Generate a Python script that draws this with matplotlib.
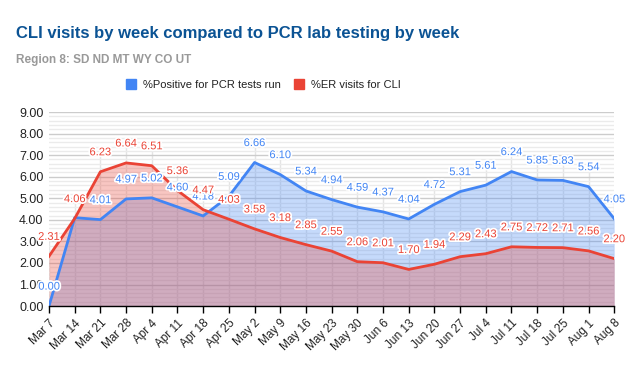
import matplotlib.pyplot as plt
from matplotlib.patches import Rectangle
from matplotlib.ticker import MultipleLocator
import matplotlib.patheffects as pe

plt.rcParams['font.family'] = ['Liberation Sans', 'DejaVu Sans']

# weekly dates
weeks = ['Mar 7', 'Mar 14', 'Mar 21', 'Mar 28', 'Apr 4', 'Apr 11', 'Apr 18',
         'Apr 25', 'May 2', 'May 9', 'May 16', 'May 23', 'May 30', 'Jun 6',
         'Jun 13', 'Jun 20', 'Jun 27', 'Jul 4', 'Jul 11', 'Jul 18', 'Jul 25',
         'Aug 1', 'Aug 8']

# %Positive for PCR tests run
pcr_positive = [0.00, 4.10, 4.01, 4.97, 5.02, 4.60, 4.18, 5.09, 6.66, 6.10,
                5.34, 4.94, 4.59, 4.37, 4.04, 4.72, 5.31, 5.61, 6.24, 5.85,
                5.83, 5.54, 4.05]

# %ER visits for CLI
er_visits = [2.31, 4.06, 6.23, 6.64, 6.51, 5.36, 4.47, 4.03, 3.58, 3.18,
             2.85, 2.55, 2.06, 2.01, 1.70, 1.94, 2.29, 2.43, 2.75, 2.72,
             2.71, 2.56, 2.20]

blue = '#4285F4'
red = '#EA4335'

fig = plt.figure(figsize=(6.33, 3.71), dpi=100)
ax = fig.add_axes([0.0774, 0.175, 0.893, 0.523])

x = list(range(len(weeks)))

# faint leader lines from each label down to the axis
tops = [max(a, b) + 0.9 for a, b in zip(pcr_positive, er_visits)]
ax.vlines(x, 0, tops, color='#e4e4e4', linewidth=1, zorder=0.5)

# areas and lines
ax.fill_between(x, pcr_positive, 0, color=blue, alpha=0.3, linewidth=0)
ax.fill_between(x, er_visits, 0, color=red, alpha=0.3, linewidth=0)
ax.plot(x, pcr_positive, color=blue, linewidth=2)
ax.plot(x, er_visits, color=red, linewidth=2)

# data labels with white halo
halo = [pe.withStroke(linewidth=2.5, foreground='white')]
for xi, v in zip(x, pcr_positive):
    if xi == 1:
        continue  # hidden behind the red label in the original
    ax.annotate('%.2f' % v, (xi, v), xytext=(0, 14), textcoords='offset points',
                ha='center', va='center', fontsize=8, color=blue,
                path_effects=halo, annotation_clip=False)
for xi, v in zip(x, er_visits):
    ax.annotate('%.2f' % v, (xi, v), xytext=(0, 14), textcoords='offset points',
                ha='center', va='center', fontsize=8, color=red,
                path_effects=halo, annotation_clip=False)

ax.set_xlim(0, len(weeks) - 1)
ax.set_ylim(0, 9)
ax.yaxis.set_major_locator(MultipleLocator(1))
ax.yaxis.set_minor_locator(MultipleLocator(0.2))
ax.set_yticks(range(10))
ax.set_yticklabels(['%.2f' % v for v in range(10)], fontsize=9, color='#222222')
ax.set_xticks(x)
ax.set_xticklabels(weeks, rotation=45, ha='right', rotation_mode='anchor',
                   fontsize=8.5, color='#222222')

ax.set_axisbelow(True)
ax.grid(axis='y', which='major', color='#cccccc', linewidth=1)
ax.grid(axis='y', which='minor', color='#ebebeb', linewidth=1)
ax.tick_params(axis='y', which='both', length=0, pad=4)
ax.tick_params(axis='x', length=5, width=1, color='black', pad=3)

for side in ['top', 'right', 'left']:
    ax.spines[side].set_visible(False)
ax.spines['bottom'].set_color('black')
ax.spines['bottom'].set_linewidth(1)

# title, subtitle, legend
fig.text(0.025, 0.91, 'CLI visits by week compared to PCR lab testing by week',
         fontsize=12, fontweight='bold', color='#0B5394', va='center')
fig.text(0.025, 0.838, 'Region 8: SD ND MT WY CO UT',
         fontsize=8.5, fontweight='bold', color='#999999', va='center')

handles = [Rectangle((0, 0), 1, 1, color=blue), Rectangle((0, 0), 1, 1, color=red)]
fig.legend(handles, ['%Positive for PCR tests run', '%ER visits for CLI'],
           loc='center', bbox_to_anchor=(0.416, 0.772), ncol=2, frameon=False,
           fontsize=8, handlelength=0.9, handleheight=0.9, handletextpad=0.6,
           columnspacing=1.2, labelcolor='#222222')

plt.savefig('out.png', dpi=100)
